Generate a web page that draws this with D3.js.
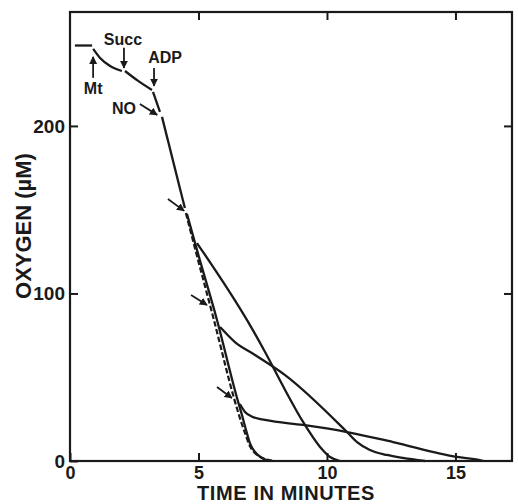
<!DOCTYPE html>
<html>
<head>
<meta charset="utf-8">
<script src="https://cdn.jsdelivr.net/npm/d3@7"></script>
<style>
  body { margin: 0; background: #fff; }
  svg text { font-family: 'Liberation Sans', Arial, sans-serif; fill: #1a1a1a; }
</style>
</head>
<body>
<div id="chart"></div>
<script>
// oxygen trace before the three uncoupler arrows (time in min, O2 in uM)
const traceFlat = [[0.19, 248], [0.86, 248]];
const traceMt = [[0.9, 246], [1.17, 240.6], [1.56, 235.8], [2.02, 232.8]];
const traceSucc = [[2.14, 232.8], [2.65, 226.9], [3.19, 221.5]];
const traceAdp = [[3.23, 220.3], [3.5, 208.4]];
const traceNo = [[3.58, 205.4], [4.47, 151]];

// after first arrow: solid and dashed fast traces
const steepSolid = [[4.55, 147.5], [4.94, 126], [5.72, 84.2], [6.5, 37.6], [6.69, 27.5],
  [6.85, 18.5], [7.0, 10.7], [7.2, 5.4], [7.47, 1.8], [7.78, 0]];
const steepDashed = [[4.51, 148], [4.86, 127.2], [5.6, 84.2], [6.38, 37.6], [6.61, 25.7],
  [6.81, 16.7], [7.0, 9.0], [7.28, 3.6], [7.59, 1.2], [7.94, 0]];

// branches that slow down
const branch1 = [[4.94, 130.1], [6.93, 83], [7.59, 65.1], [8.37, 42.4], [9.07, 23.3],
  [9.73, 8.4], [10.12, 2.4], [10.51, 0]];
const branch2 = [[5.84, 80], [6.42, 71], [7.2, 63.3], [8.37, 51.3], [10.78, 17.3],
  [11.17, 11.3], [11.67, 6.6], [12.33, 3.6], [12.96, 1.8], [13.81, 0]];
const branch3 = [[6.61, 34], [6.81, 29.3], [7.12, 26.3], [7.59, 24.5], [9.07, 21.5],
  [10.78, 17.3], [12.57, 11.3], [15.06, 2.4], [15.95, 0.6], [16.1, 0]];

// arrows: [x1, y1, x2, y2] with the head at the second point
const arrows = [
  [0.9, 228.7, 0.9, 241.2],
  [2.1, 246.6, 2.1, 234.6],
  [3.27, 234.6, 3.27, 223.9],
  [2.72, 213.1, 3.39, 206.6],
  [3.81, 156.4, 4.44, 149.3],
  [4.71, 99.1, 5.33, 93.1],
  [5.72, 44.2, 6.3, 37.6],
];
const labels = [
  ['Mt', 0.9, 222.7],
  ['Succ', 2.06, 252],
  ['ADP', 3.7, 241.2],
  ['NO', 2.1, 210.7],
];

const xTicks = [0, 5, 10, 15];
const yTicks = [0, 100, 200];

const margin = { top: 12, right: 6, bottom: 43, left: 70 };
const width = 518 - margin.left - margin.right;
const height = 504 - margin.top - margin.bottom;

const svg = d3.select('#chart')
  .append('svg')
  .attr('width', 518)
  .attr('height', 504);

svg.append('defs').append('marker')
  .attr('id', 'head')
  .attr('viewBox', '0 0 10 10')
  .attr('refX', 9)
  .attr('refY', 5)
  .attr('markerWidth', 8)
  .attr('markerHeight', 8)
  .attr('markerUnits', 'userSpaceOnUse')
  .attr('orient', 'auto')
  .append('path')
  .attr('d', 'M0,0L10,5L0,10Z')
  .attr('fill', '#1a1a1a');

const g = svg.append('g')
  .attr('transform', `translate(${margin.left},${margin.top})`);

const x = d3.scaleLinear().domain([0, 17.2]).range([0, width]);
const y = d3.scaleLinear().domain([0, 268]).range([height, 0]);

// axes with inward ticks on all four sides
const tickStyle = (sel) => {
  sel.select('.domain').remove();
  sel.selectAll('line').attr('stroke', '#1a1a1a').attr('stroke-width', 2);
};

g.append('g')
  .attr('transform', `translate(0,${height})`)
  .call(d3.axisBottom(x).tickValues(xTicks).tickSizeInner(-8).tickSizeOuter(0).tickPadding(5))
  .call(tickStyle)
  .selectAll('text')
  .style('font-size', '18px')
  .style('font-weight', 'bold');

g.append('g')
  .call(d3.axisTop(x).tickValues(xTicks.slice(1)).tickSizeInner(-8).tickSizeOuter(0).tickFormat(''))
  .call(tickStyle);

g.append('g')
  .call(d3.axisLeft(y).tickValues(yTicks).tickSizeInner(-8).tickSizeOuter(0).tickPadding(5))
  .call(tickStyle)
  .selectAll('text')
  .style('font-size', '19px')
  .style('font-weight', 'bold');

g.append('g')
  .attr('transform', `translate(${width},0)`)
  .call(d3.axisRight(y).tickValues(yTicks.slice(1)).tickSizeInner(-8).tickSizeOuter(0).tickFormat(''))
  .call(tickStyle);

g.append('rect')
  .attr('width', width)
  .attr('height', height)
  .attr('fill', 'none')
  .attr('stroke', '#1a1a1a')
  .attr('stroke-width', 2.2);

const line = d3.line()
  .x((d) => x(d[0]))
  .y((d) => y(d[1]))
  .curve(d3.curveMonotoneX);

const solids = [traceFlat, traceMt, traceSucc, traceAdp, traceNo, steepSolid, branch1, branch2, branch3];
g.selectAll('path.trace')
  .data(solids)
  .enter().append('path')
  .attr('class', 'trace')
  .attr('d', line)
  .attr('fill', 'none')
  .attr('stroke', '#1a1a1a')
  .attr('stroke-width', 2.3);

g.append('path')
  .attr('d', line(steepDashed))
  .attr('fill', 'none')
  .attr('stroke', '#1a1a1a')
  .attr('stroke-width', 2.2)
  .attr('stroke-dasharray', '5.5,2.5');

g.selectAll('line.arrow')
  .data(arrows)
  .enter().append('line')
  .attr('class', 'arrow')
  .attr('x1', (d) => x(d[0]))
  .attr('y1', (d) => y(d[1]))
  .attr('x2', (d) => x(d[2]))
  .attr('y2', (d) => y(d[3]))
  .attr('stroke', '#1a1a1a')
  .attr('stroke-width', 1.8)
  .attr('marker-end', 'url(#head)');

g.selectAll('text.lab')
  .data(labels)
  .enter().append('text')
  .attr('class', 'lab')
  .attr('x', (d) => x(d[1]))
  .attr('y', (d) => y(d[2]))
  .attr('text-anchor', 'middle')
  .attr('dy', '0.36em')
  .style('font-size', '16px')
  .style('font-weight', 'bold')
  .text((d) => d[0]);

// axis titles
svg.append('text')
  .attr('x', 286)
  .attr('y', 500)
  .attr('text-anchor', 'middle')
  .style('font-size', '20px')
  .style('font-weight', 'bold')
  .style('letter-spacing', '0.6px')
  .text('TIME IN MINUTES');

svg.append('text')
  .attr('transform', 'translate(31,226) rotate(-90)')
  .attr('text-anchor', 'middle')
  .style('font-size', '22px')
  .style('font-weight', 'bold')
  .text('OXYGEN (µM)');
</script>
</body>
</html>
